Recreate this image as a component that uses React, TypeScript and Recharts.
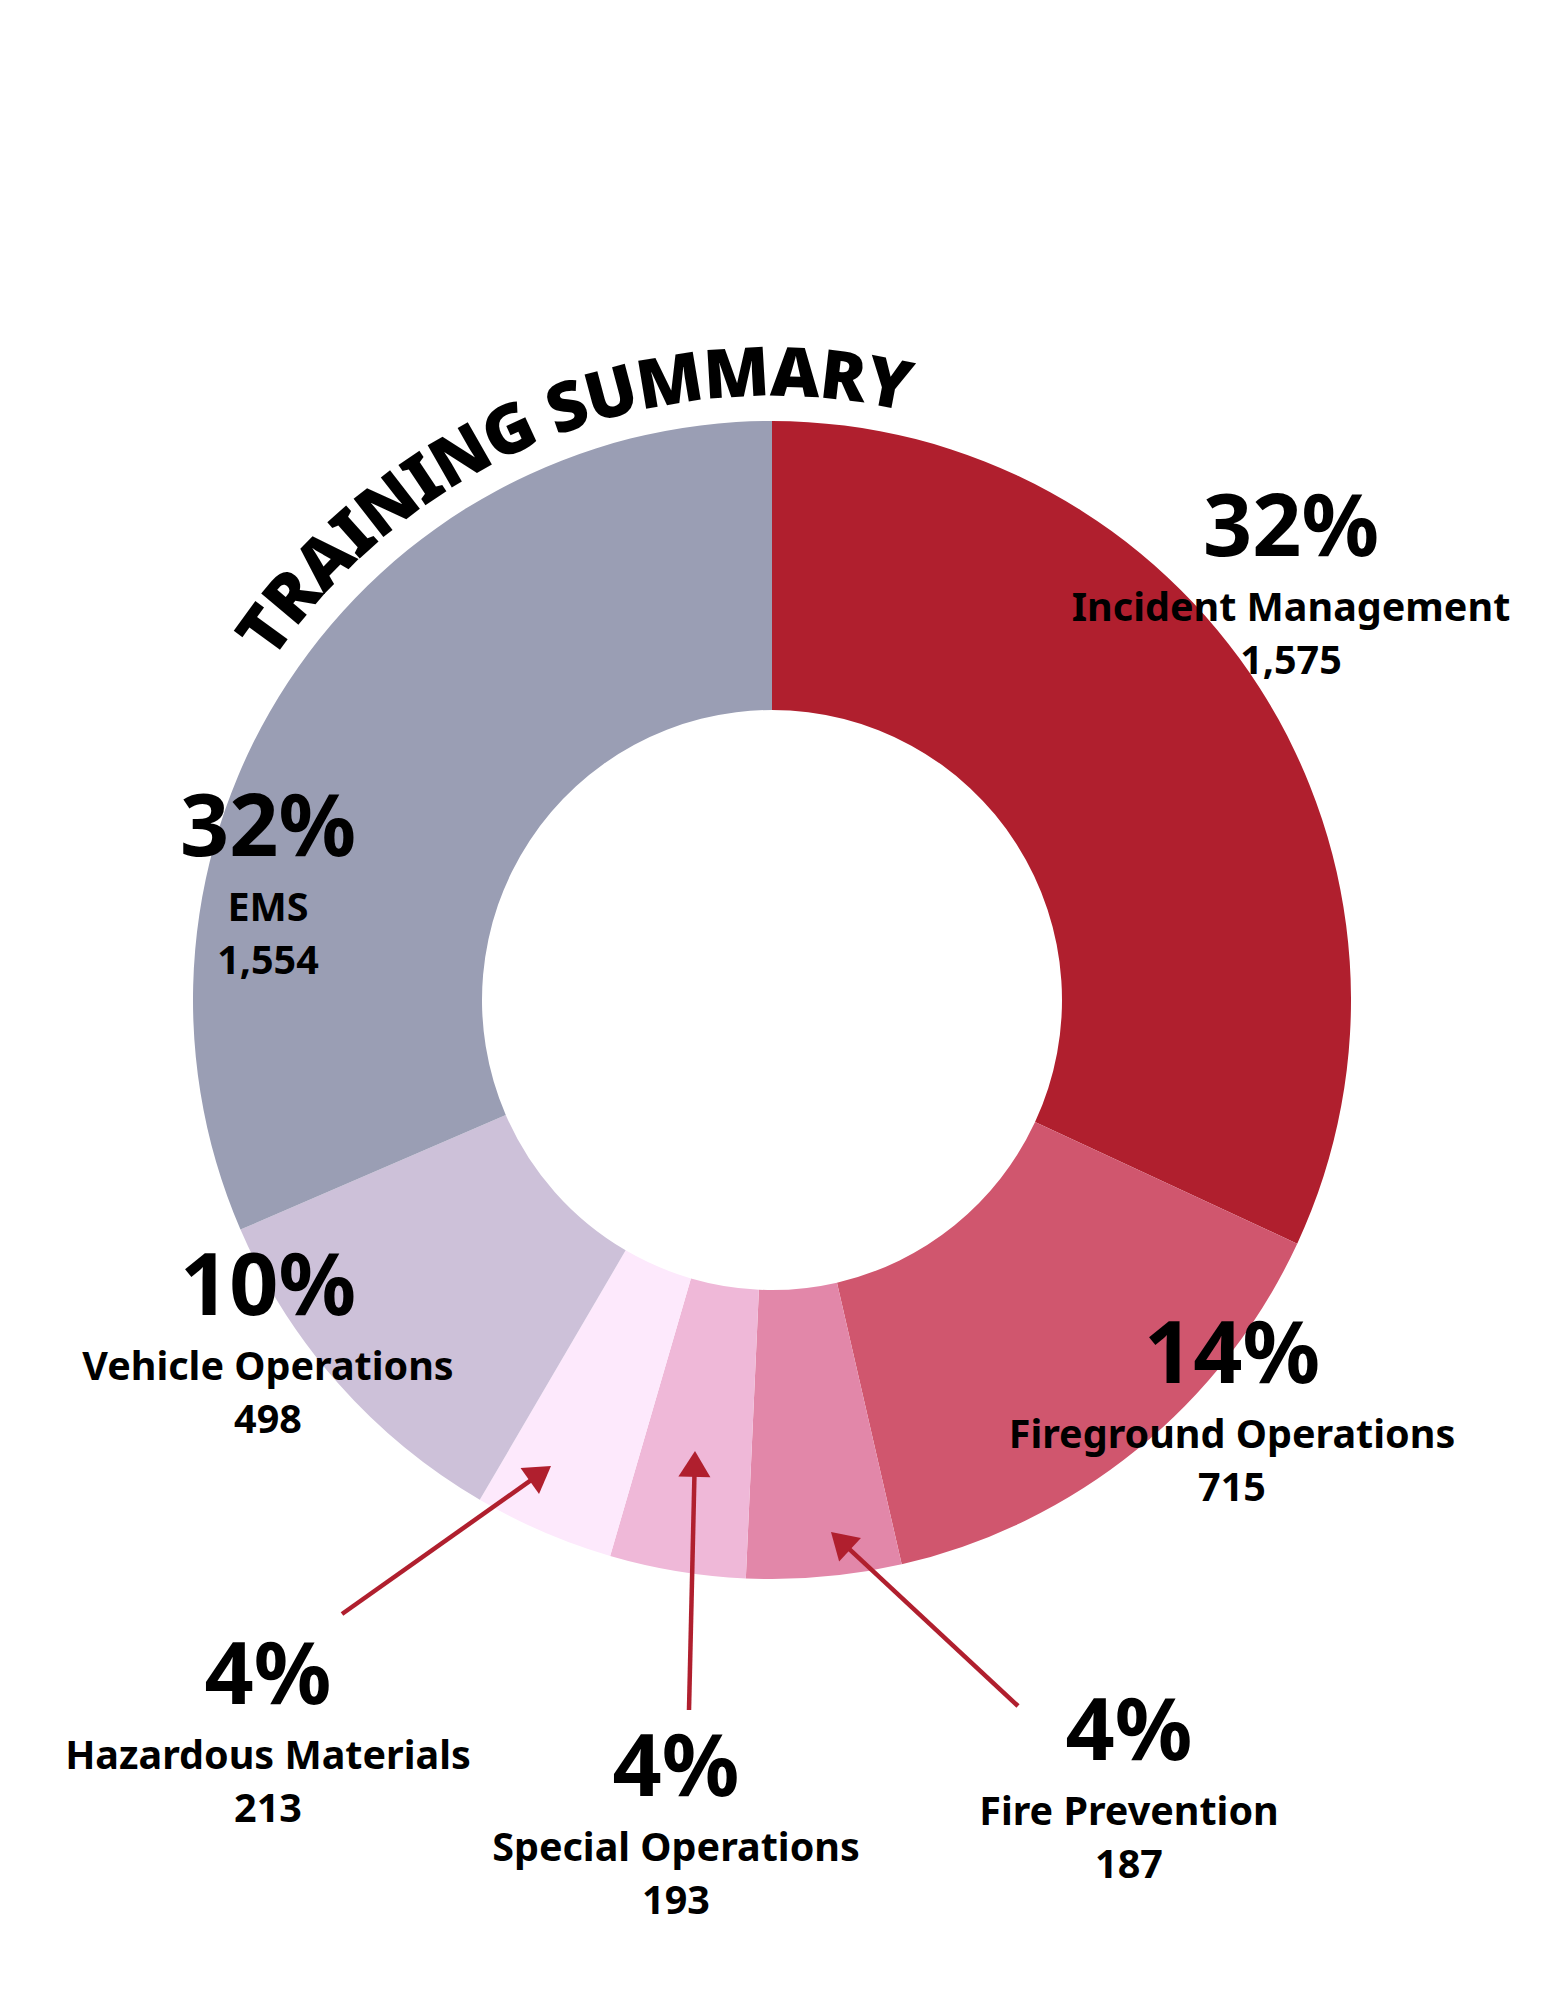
import { PieChart, Pie, Cell } from "recharts";

// slices in clockwise order from 12 o'clock
const CATEGORIES = [
  "Incident Management",
  "Fireground Operations",
  "Fire Prevention",
  "Special Operations",
  "Hazardous Materials",
  "Vehicle Operations",
  "EMS",
];
// slice sizes as drawn in the picture (the three small wedges measure ~213 / 187 / 193)
const SLICE_HOURS = [1575, 715, 213, 187, 193, 498, 1554];
// printed annotations
const PERCENT_LABELS = ["32%", "14%", "4%", "4%", "4%", "10%", "32%"];
const VALUE_LABELS = ["1,575", "715", "187", "193", "213", "498", "1,554"];
const COLORS = ["#B01F2E", "#D0566E", "#E287A9", "#EFB8D8", "#FDE9FC", "#CDC1D9", "#9A9EB4"];

// label anchor = centre of the percent text, relative to the pie centre
const LABEL_OFFSETS = [
  [519, -478],
  [460, 349],
  [357, 726],
  [-96, 762],
  [-504, 670],
  [-504, 281],
  [-504, -178],
];
// arrows for the thin slices: [tailX, tailY, tipX, tipY] relative to centre
const ARROWS: (number[] | null)[] = [
  null,
  null,
  [246, 706, 59, 532],
  [-83, 710, -77, 451],
  [-430, 614, -221, 466],
  null,
  null,
];

const W = 1545;
const H = 2000;
const CX = 772;
const CY = 1000;
const ARROW_COLOR = "#B01F2E";
const FONT = "'Noto Sans', 'Open Sans', sans-serif";

const data = CATEGORIES.map((name, i) => ({ name, value: SLICE_HOURS[i] }));

function arrowHead(x1: number, y1: number, x2: number, y2: number) {
  const len = Math.hypot(x2 - x1, y2 - y1);
  const ux = (x2 - x1) / len;
  const uy = (y2 - y1) / len;
  const hl = 26;
  const hw = 16;
  const bx = x2 - ux * hl;
  const by = y2 - uy * hl;
  return {
    shaftEnd: [bx + ux * 2, by + uy * 2],
    points: `${x2},${y2} ${bx - uy * hw},${by + ux * hw} ${bx + uy * hw},${by - ux * hw}`,
  };
}

function renderLabel(props: any) {
  const { index, cx, cy } = props;
  const [dx, dy] = LABEL_OFFSETS[index];
  const x = cx + dx;
  const y = cy + dy;
  const arrow = ARROWS[index];
  let arrowEl = null;
  if (arrow) {
    const x1 = cx + arrow[0];
    const y1 = cy + arrow[1];
    const x2 = cx + arrow[2];
    const y2 = cy + arrow[3];
    const head = arrowHead(x1, y1, x2, y2);
    arrowEl = (
      <g>
        <line x1={x1} y1={y1} x2={head.shaftEnd[0]} y2={head.shaftEnd[1]} stroke={ARROW_COLOR} strokeWidth={4.5} />
        <polygon points={head.points} fill={ARROW_COLOR} />
      </g>
    );
  }
  return (
    <g key={`lbl-${index}`}>
      {arrowEl}
      <text x={x} y={y} textAnchor="middle" dominantBaseline="central" fontFamily={FONT} fontWeight={700} fontSize={86} fill="#000">
        {PERCENT_LABELS[index]}
      </text>
      <text x={x} y={y + 84} textAnchor="middle" dominantBaseline="central" fontFamily={FONT} fontWeight={700} fontSize={39.5} fill="#000">
        {CATEGORIES[index]}
      </text>
      <text x={x} y={y + 137} textAnchor="middle" dominantBaseline="central" fontFamily={FONT} fontWeight={700} fontSize={39.5} fill="#000">
        {VALUE_LABELS[index]}
      </text>
    </g>
  );
}

// title sits on an arc concentric with the donut
const TITLE_R = 604;
const TITLE_MID = -21.5;
function arcPoint(deg: number) {
  const a = (deg * Math.PI) / 180;
  return [CX + TITLE_R * Math.sin(a), CY - TITLE_R * Math.cos(a)];
}
const [ax1, ay1] = arcPoint(TITLE_MID - 60);
const [ax2, ay2] = arcPoint(TITLE_MID + 60);
const TITLE_PATH = `M ${ax1} ${ay1} A ${TITLE_R} ${TITLE_R} 0 0 1 ${ax2} ${ay2}`;

export default function App() {
  return (
    <div style={{ position: "absolute", left: 0, top: 0, width: W, height: H, background: "#fff" }}>
      <PieChart width={W} height={H} margin={{ top: 0, right: 0, bottom: 0, left: 0 }}>
        <Pie
          data={data}
          dataKey="value"
          nameKey="name"
          cx={CX}
          cy={CY}
          innerRadius={290}
          outerRadius={579}
          startAngle={90}
          endAngle={-270}
          stroke="none"
          label={renderLabel}
          labelLine={false}
          isAnimationActive={false}
        >
          {data.map((d, i) => (
            <Cell key={d.name} fill={COLORS[i]} />
          ))}
        </Pie>
      </PieChart>
      <svg width={W} height={H} style={{ position: "absolute", left: 0, top: 0, pointerEvents: "none" }}>
        <defs>
          <path id="titleArc" d={TITLE_PATH} fill="none" />
        </defs>
        <text fontFamily="'Noto Sans', sans-serif" fontWeight={900} fontSize={68} fill="#000" letterSpacing={-1}>
          <textPath href="#titleArc" startOffset="50%" textAnchor="middle">
            TRAINING SUMMARY
          </textPath>
        </text>
      </svg>
    </div>
  );
}
